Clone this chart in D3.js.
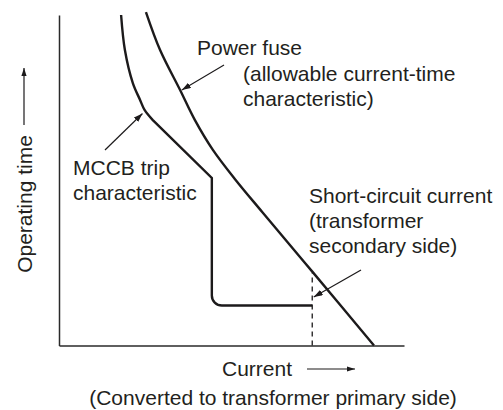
<!DOCTYPE html>
<html>
<head>
<meta charset="utf-8">
<script src="https://cdn.jsdelivr.net/npm/d3@7/dist/d3.min.js"></script>
<style>
  html, body { margin: 0; padding: 0; background: #fff; }
  svg { display: block; }
  text { font-family: "Liberation Sans", Arial, Helvetica, sans-serif; fill: #231f20; }
</style>
</head>
<body>
<svg id="chart" width="503" height="410"></svg>
<script>
// Coordination of an MCCB trip curve with a power fuse (arbitrary units, 0-100)

// MCCB trip characteristic: inverse-time curve, then short-time band
const mccbCurveCurrent = [18.0, 19.1, 21.4, 23.5, 24.8, 27.2];
const mccbCurveTime    = [100, 89.4, 79.4, 74.3, 71.3, 68.2];
const mccbStepCurrent  = [27.2, 44.3, 44.3, 73.4];
const mccbStepTime     = [68.2, 50.7, 12.1, 12.1];

// Power fuse allowable current-time characteristic
const fuseCurrent = [25.2, 29.3, 35.1, 39.4, 44.6, 51.2, 58.9, 73.3, 91.3];
const fuseTime    = [100.9, 89.4, 77.3, 68.2, 59.2, 50.1, 40.4, 22.5, 0];

// Short-circuit current on the transformer secondary side
const shortCircuitCurrent = 73.4;
const shortCircuitTimeTop = 22.0;

// Axis titles and annotation labels
const yTitle = "Operating time";
const xTitleLines = ["Current", "(Converted to transformer primary side)"];
const fuseLabel = ["Power fuse", "(allowable current-time", "characteristic)"];
const mccbLabel = ["MCCB trip", "characteristic"];
const scLabel = ["Short-circuit current", "(transformer", "secondary side)"];

const svg = d3.select("#chart");
const ink = "#1c1a1b";

const x = d3.scaleLinear().domain([0, 100]).range([59, 404]);
const y = d3.scaleLinear().domain([0, 100]).range([345.5, 15]);

// Arrowhead markers
const defs = svg.append("defs");
function marker(id, len, half) {
  defs.append("marker")
    .attr("id", id)
    .attr("viewBox", `0 ${-half} ${len} ${2 * half}`)
    .attr("refX", len).attr("refY", 0)
    .attr("markerUnits", "userSpaceOnUse")
    .attr("markerWidth", len).attr("markerHeight", 2 * half)
    .attr("orient", "auto")
    .append("path")
    .attr("d", `M0,${-half}L${len},0L0,${half}Z`)
    .attr("fill", ink);
}
marker("headSmall", 9, 3);
marker("headAxis", 8, 2.6);

// Axes: plain lines without ticks
const gx = svg.append("g")
  .attr("transform", `translate(0,${y(0)})`)
  .call(d3.axisBottom(x).tickValues([]).tickSizeOuter(0));
const gy = svg.append("g")
  .attr("transform", `translate(${x(0)},0)`)
  .call(d3.axisLeft(y).tickValues([]).tickSizeOuter(0));
[gx, gy].forEach(g => g.select(".domain").attr("stroke", "#2a2a2a").attr("stroke-width", 1.5));

// MCCB trip curve
const mccbPath = d3.path();
d3.line().curve(d3.curveCatmullRom.alpha(0.5)).context(mccbPath)(
  mccbCurveCurrent.map((c, i) => [x(c), y(mccbCurveTime[i])])
);
const stepPts = mccbStepCurrent.map((c, i) => [x(c), y(mccbStepTime[i])]);
const cornerR = 10;
mccbPath.lineTo(stepPts[1][0], stepPts[1][1]);
mccbPath.arcTo(stepPts[2][0], stepPts[2][1], stepPts[3][0], stepPts[3][1], cornerR);
mccbPath.lineTo(stepPts[3][0], stepPts[3][1]);

svg.append("path")
  .attr("d", mccbPath.toString())
  .attr("fill", "none")
  .attr("stroke", ink)
  .attr("stroke-width", 2.4)
  .attr("stroke-linejoin", "miter");

// Fuse curve
svg.append("path")
  .datum(fuseCurrent.map((c, i) => [c, fuseTime[i]]))
  .attr("d", d3.line().x(d => x(d[0])).y(d => y(d[1])).curve(d3.curveCatmullRom.alpha(0.5)))
  .attr("fill", "none")
  .attr("stroke", ink)
  .attr("stroke-width", 2.4);

// Short-circuit current marker (dashed)
svg.append("line")
  .attr("x1", x(shortCircuitCurrent)).attr("x2", x(shortCircuitCurrent))
  .attr("y1", y(0)).attr("y2", y(shortCircuitTimeTop))
  .attr("stroke", ink)
  .attr("stroke-width", 1.3)
  .attr("stroke-dasharray", "5,4");

// Text helper
function lines(arr, x0, y0, dy) {
  const t = svg.append("text").attr("font-size", 21);
  arr.forEach((s, i) => t.append("tspan").attr("x", x0).attr("y", y0 + i * dy).text(s));
  return t;
}

lines([fuseLabel[0]], 197, 55, 0);
lines(fuseLabel.slice(1), 243, 81, 25);
lines(mccbLabel, 73, 175, 24.5);
lines(scLabel, 309, 203, 25);

// Leader arrows
function leader(x1, y1, x2, y2) {
  svg.append("line")
    .attr("x1", x1).attr("y1", y1).attr("x2", x2).attr("y2", y2)
    .attr("stroke", ink).attr("stroke-width", 1.2)
    .attr("marker-end", "url(#headSmall)");
}
leader(224, 65, x(35.6), y(77.3));
leader(105, 150, x(24.2), y(70.2));
leader(361, 270, x(shortCircuitCurrent) + 1.5, 297);

// Axis titles
svg.append("text")
  .attr("font-size", 21)
  .attr("text-anchor", "middle")
  .attr("transform", "translate(31.5,204) rotate(-90)")
  .text(yTitle);
svg.append("line")
  .attr("x1", 24).attr("y1", 125).attr("x2", 24).attr("y2", 68)
  .attr("stroke", ink).attr("stroke-width", 1.2)
  .attr("marker-end", "url(#headAxis)");

svg.append("text")
  .attr("font-size", 21)
  .attr("x", 222).attr("y", 376)
  .text(xTitleLines[0]);
svg.append("line")
  .attr("x1", 307).attr("y1", 369).attr("x2", 355).attr("y2", 369)
  .attr("stroke", ink).attr("stroke-width", 1.2)
  .attr("marker-end", "url(#headAxis)");
svg.append("text")
  .attr("font-size", 21)
  .attr("text-anchor", "middle")
  .attr("x", 273).attr("y", 405)
  .text(xTitleLines[1]);
</script>
</body>
</html>
